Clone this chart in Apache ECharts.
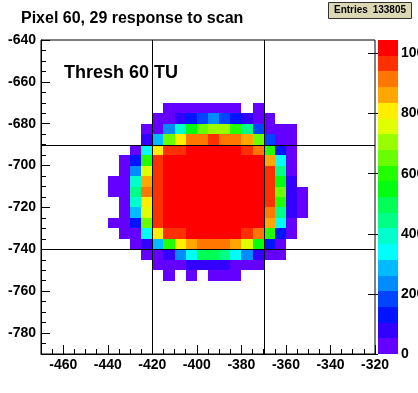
<!DOCTYPE html>
<html><head><meta charset="utf-8">
<script src="https://cdn.jsdelivr.net/npm/echarts@6/dist/echarts.min.js"></script>
<style>html,body{margin:0;padding:0;background:#fff}#c{width:418px;height:393px}</style>
</head><body><div id="c"></div><script>
const titleText = 'Pixel 60, 29 response to scan';
const annotationText = 'Thresh 60 TU';
const entriesLabel = 'Entries';
const entriesValue = '133805';

const binSize = 5;
const binColumns = [-440,-435,-430,-425,-420,-415,-410,-405,-400,-395,-390,-385,-380,-375,-370,-365,-360,-355];
const binRows = [-675,-680,-685,-690,-695,-700,-705,-710,-715,-720,-725,-730,-735,-740,-745,-750,-755];
const n = null;
const counts = [
  [n,n,n,n,n,25,30,40,35,30,28,22,n,12,n,n,n,n],
  [n,n,n,n,20,45,80,130,185,235,180,128,78,40,15,n,n,n],
  [n,n,n,15,48,238,392,548,652,706,702,600,445,184,42,20,8,n],
  [n,n,n,75,290,655,812,918,915,968,912,910,862,648,182,35,12,n],
  [n,n,18,340,808,970,965,1015,1030,1036,1028,1010,972,918,602,130,25,n],
  [n,12,128,598,968,1012,1030,1040,1042,1038,1035,1025,1020,1005,864,342,40,n],
  [n,20,236,758,970,1015,1035,1042,1044,1040,1038,1030,1022,1010,966,448,45,n],
  [8,35,394,862,972,1018,1038,1043,1045,1042,1040,1032,1025,1012,968,550,70,n],
  [10,40,446,916,975,1020,1036,1043,1044,1043,1039,1033,1026,1013,970,652,82,22],
  [n,38,392,810,970,1018,1035,1042,1044,1042,1038,1030,1024,1010,966,600,75,18],
  [n,30,290,758,968,1015,1032,1040,1042,1040,1036,1028,1020,1008,916,446,68,10],
  [6,25,130,650,966,1010,1028,1036,1038,1036,1032,1022,1015,1000,862,340,40,n],
  [n,15,42,342,810,970,966,1012,1025,1030,1022,1008,968,916,602,130,20,n],
  [n,n,22,78,290,600,810,862,918,915,912,860,758,550,128,30,n,n],
  [n,n,n,40,48,80,238,340,496,498,446,342,236,82,38,15,n,n],
  [n,n,n,n,25,40,45,78,80,82,76,35,28,20,n,n,n,n],
  [n,n,n,n,n,10,n,12,n,15,18,10,n,n,n,n,n,n]
];

const xRange = [-470, -320];
const yRange = [-790, -640];
const xTickLabels = [-460,-440,-420,-400,-380,-360,-340,-320];
const yTickLabels = [-780,-760,-740,-720,-700,-680,-660,-640];
const zTickLabels = [0,200,400,600,800,1000];
const zMax = 1045;
const pixelEdgesX = [-420, -370];
const pixelEdgesY = [-690, -740];
const palette = ['#6300ff','#3300ff','#0014ff','#0044ff','#008bff','#00bbff','#00fffb','#00ffcc','#00ff85','#00ff55',
                 '#00ff0e','#22ff00','#69ff00','#99ff00','#e0ff00','#ffee00','#ffa700','#ff7700','#ff3000','#ff0000'];

const FONT = '"Liberation Sans", Arial, sans-serif';
const cells = [];
binRows.forEach((y0, r) => binColumns.forEach((x0, c) => {
  const v = counts[r][c];
  if (v !== null && v > 0) cells.push([x0, y0, v]);
}));
const step = zMax / palette.length;
const pieces = palette.map((col, k) => k === palette.length - 1
  ? { gte: k * step, lte: zMax, color: col }
  : { gte: k * step, lt: (k + 1) * step, color: col });

const labelStyle = { color: '#000', fontSize: 14, fontWeight: 'bold', fontFamily: FONT, formatter: v => String(v) };
const blackLine = { color: '#000', width: 1 };

const chart = echarts.init(document.getElementById('c'), null, { renderer: 'canvas' });
chart.setOption({
  animation: false,
  backgroundColor: '#fff',
  textStyle: { fontFamily: FONT },
  title: { text: titleText, left: 21, top: 11, padding: 0,
    textStyle: { fontSize: 16, fontWeight: 'bold', color: '#000', fontFamily: FONT } },
  grid: [
    { left: 41, top: 40, width: 334, height: 314, show: true, borderColor: '#000', borderWidth: 1,
      backgroundColor: 'transparent', containLabel: false, outerBoundsMode: 'none' },
    { left: 378, top: 40, width: 20, height: 314, show: false, containLabel: false, outerBoundsMode: 'none' }
  ],
  visualMap: { type: 'piecewise', show: false, dimension: 2, seriesIndex: 0, pieces: pieces },
  xAxis: [
    { gridIndex: 0, type: 'value', min: xRange[0], max: xRange[1], position: 'bottom',
      axisLine: { show: true, lineStyle: blackLine },
      axisTick: { show: true, inside: true, length: 9, customValues: xTickLabels, lineStyle: blackLine },
      axisLabel: Object.assign({ customValues: xTickLabels, margin: 4 }, labelStyle),
      splitLine: { show: false } },
    { gridIndex: 0, type: 'value', min: xRange[0], max: xRange[1], interval: binSize, position: 'bottom',
      axisLine: { show: false }, axisTick: { show: true, inside: true, length: 5, lineStyle: blackLine },
      axisLabel: { show: false }, splitLine: { show: false } },
    { gridIndex: 1, type: 'value', min: 0, max: 1, show: false }
  ],
  yAxis: [
    { gridIndex: 0, type: 'value', min: yRange[0], max: yRange[1], position: 'left',
      axisLine: { show: true, lineStyle: blackLine },
      axisTick: { show: true, inside: true, length: 9, customValues: yTickLabels, lineStyle: blackLine },
      axisLabel: Object.assign({ customValues: yTickLabels, margin: 5 }, labelStyle),
      splitLine: { show: false } },
    { gridIndex: 0, type: 'value', min: yRange[0], max: yRange[1], interval: binSize, position: 'left',
      axisLine: { show: false }, axisTick: { show: true, inside: true, length: 5, lineStyle: blackLine },
      axisLabel: { show: false }, splitLine: { show: false } },
    { gridIndex: 1, type: 'value', min: 0, max: zMax, position: 'right',
      axisLine: { show: false },
      axisTick: { show: true, inside: true, length: 10, customValues: zTickLabels, lineStyle: blackLine },
      axisLabel: Object.assign({ customValues: zTickLabels, margin: 3, hideOverlap: false }, labelStyle),
      splitLine: { show: false } }
  ],
  series: [
    { type: 'custom', name: 'hist', xAxisIndex: 0, yAxisIndex: 0, data: cells, clip: true, z: 2,
      renderItem: (params, api) => {
        const x0 = api.value(0), y0 = api.value(1);
        const p0 = api.coord([x0, y0 + binSize]);
        const p1 = api.coord([x0 + binSize, y0]);
        const l = Math.round(p0[0]), t = Math.round(p0[1]), r = Math.round(p1[0]), b = Math.round(p1[1]);
        return { type: 'rect', shape: { x: l, y: t, width: r - l, height: b - t },
          style: { fill: api.visual('color'), stroke: null } };
      } },
    { type: 'custom', name: 'edges', xAxisIndex: 0, yAxisIndex: 0, z: 5, silent: true,
      data: pixelEdgesX.map(v => [0, v]).concat(pixelEdgesY.map(v => [1, v])),
      renderItem: (params, api) => {
        const cs = params.coordSys;
        const dir = api.value(0), v = api.value(1);
        let shape;
        if (dir === 0) {
          const x = Math.round(api.coord([v, yRange[0]])[0]) + 0.5;
          shape = { x1: x, y1: cs.y, x2: x, y2: cs.y + cs.height };
        } else {
          const y = Math.round(api.coord([xRange[0], v])[1]) + 0.5;
          shape = { x1: cs.x, y1: y, x2: cs.x + cs.width, y2: y };
        }
        return { type: 'line', shape: shape, style: { stroke: '#000', lineWidth: 1 } };
      } },
    { type: 'custom', name: 'palette', xAxisIndex: 2, yAxisIndex: 2, z: 2, silent: true,
      data: palette.map((c, k) => [k]),
      renderItem: (params, api) => {
        const k = api.value(0);
        const p0 = api.coord([0, (k + 1) * step]);
        const p1 = api.coord([1, k * step]);
        const l = Math.round(p0[0]), t = Math.round(p0[1]), r = Math.round(p1[0]), b = Math.round(p1[1]);
        return { type: 'rect', shape: { x: l, y: t, width: r - l, height: b - t },
          style: { fill: palette[k], stroke: null } };
      } }
  ],
  graphic: [
    { type: 'text', x: 64, y: 64, z: 10,
      style: { text: annotationText, fill: '#000', font: 'bold 18px ' + FONT, verticalAlign: 'top' } },
    { type: 'rect', x: 328.5, y: 2.5, z: 10,
      shape: { width: 83, height: 16 }, style: { fill: '#dcd8b4', stroke: '#333', lineWidth: 1 } },
    { type: 'text', x: 334, y: 5, z: 11,
      style: { text: entriesLabel, fill: '#000', font: 'bold 10px ' + FONT, verticalAlign: 'top' } },
    { type: 'text', x: 406, y: 5, z: 11,
      style: { text: entriesValue, fill: '#000', font: 'bold 10px ' + FONT, align: 'right', verticalAlign: 'top' } }
  ]
});
</script></body></html>
